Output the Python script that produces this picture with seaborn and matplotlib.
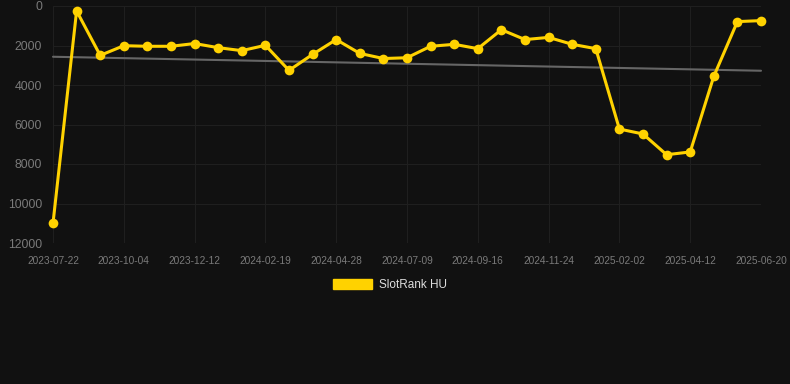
import matplotlib
matplotlib.use("Agg")
import matplotlib.pyplot as plt
import seaborn as sns
import numpy as np
import pandas as pd
from matplotlib.patches import Patch

dates = ["2023-07-22", "2023-08-15", "2023-09-09", "2023-10-04", "2023-10-27",
         "2023-11-19", "2023-12-12", "2024-01-04", "2024-01-27", "2024-02-19",
         "2024-03-13", "2024-04-05", "2024-04-28", "2024-05-22", "2024-06-15",
         "2024-07-09", "2024-08-01", "2024-08-24", "2024-09-16", "2024-10-09",
         "2024-11-01", "2024-11-24", "2024-12-18", "2025-01-10", "2025-02-02",
         "2025-02-24", "2025-03-19", "2025-04-12", "2025-05-05", "2025-05-28",
         "2025-06-20"]
ranks = [11000, 250, 2500, 2010, 2040, 2040, 1900, 2110, 2260, 1990,
         3260, 2450, 1700, 2400, 2660, 2620, 2040, 1940, 2160, 1200,
         1700, 1590, 1940, 2160, 6230, 6480, 7530, 7390, 3560, 790,
         740]
series_name = "SlotRank HU"

df = pd.DataFrame({"idx": np.arange(len(dates)), "date": dates, "rank": ranks})
coef = np.polyfit(df["idx"], df["rank"], 1)
df["trend"] = np.polyval(coef, df["idx"])

sns.set_theme(style="dark")
plt.rcParams['font.family'] = ['Liberation Sans', 'DejaVu Sans']

bg = "#111111"
fig = plt.figure(figsize=(7.9, 3.84), dpi=100, facecolor=bg)
ax = fig.add_axes([53/790, 1-243/384, (761-53)/790, (243-6)/384])
ax.set_facecolor(bg)

sns.lineplot(data=df, x="idx", y="trend", ax=ax, color="#666666", linewidth=1.5, legend=False)
sns.lineplot(data=df, x="idx", y="rank", ax=ax, color="#FFD200", linewidth=2.2,
             marker="o", markersize=7, markeredgewidth=0, legend=False)
for ln in ax.lines:
    ln.set_clip_on(False)

ax.set_xlim(0, len(dates) - 1)
ax.set_ylim(12000, 0)
ax.set_yticks(np.arange(0, 12001, 2000))
ax.set_yticklabels([str(v) for v in range(0, 12001, 2000)])
tick_idx = list(range(0, len(dates), 3))
ax.set_xticks(tick_idx)
ax.set_xticklabels([dates[i] for i in tick_idx])
ax.set_xlabel("")
ax.set_ylabel("")

ax.grid(True, color="#1f1f1f", linewidth=0.8)
for s in ax.spines.values():
    s.set_visible(False)
ax.tick_params(axis="y", colors="#7a7a7a", labelsize=8.8, length=0, pad=8)
ax.tick_params(axis="x", colors="#7a7a7a", labelsize=7.3, length=5, color="#262626", pad=4)
for lab in ax.get_yticklabels() + ax.get_xticklabels():
    lab.set_color("#7a7a7a")

handle = Patch(facecolor="#FFD200", edgecolor="#FFD200")
leg = fig.legend([handle], [series_name], loc="center", bbox_to_anchor=(390/790, 1-285/384),
                 frameon=False, fontsize=8.5, handlelength=3.3, handleheight=0.85,
                 labelcolor="#dddddd", handletextpad=0.55)

fig.savefig("out.png", dpi=100, facecolor=bg)
